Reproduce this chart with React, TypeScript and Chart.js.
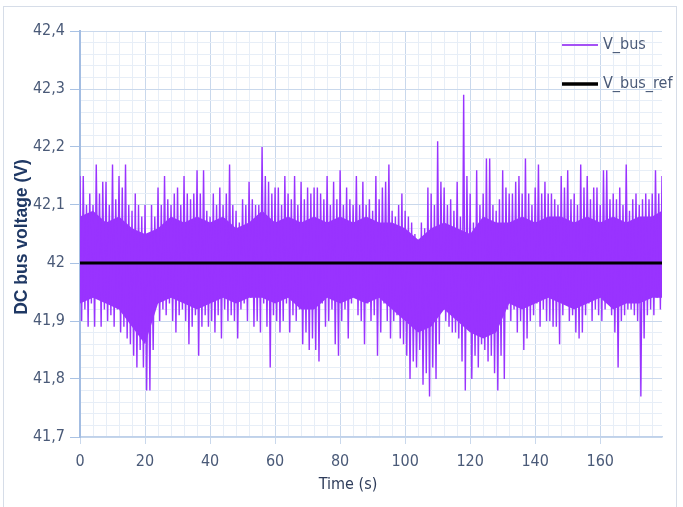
import React, { useEffect, useRef } from 'react';
import { Chart, registerables } from 'chart.js';

Chart.register(...registerables);

// ---- data ----
// Upper spike peak of V_bus for each second, t = 0..179 s
const upperPeaks = [
  42.15, 42.15, 42.1, 42.12, 42.1, 42.17, 42.12, 42.14, 42.14, 42.1,
  42.17, 42.11, 42.15, 42.13, 42.17, 42.1, 42.09, 42.12, 42.1, 42.08,
  42.1, 42.05, 42.1, 42.08, 42.13, 42.1, 42.15, 42.11, 42.1, 42.12,
  42.13, 42.1, 42.15, 42.12, 42.11, 42.12, 42.16, 42.12, 42.16, 42.09,
  42.08, 42.12, 42.1, 42.13, 42.1, 42.12, 42.17, 42.1, 42.09, 42.07,
  42.11, 42.1, 42.14, 42.11, 42.1, 42.1, 42.2, 42.15, 42.14, 42.12,
  42.13, 42.13, 42.1, 42.15, 42.12, 42.11, 42.15, 42.1, 42.14, 42.11,
  42.13, 42.12, 42.13, 42.13, 42.12, 42.11, 42.15, 42.1, 42.14, 42.11,
  42.16, 42.1, 42.13, 42.11, 42.1, 42.15, 42.1, 42.14, 42.1, 42.11,
  42.09, 42.15, 42.11, 42.13, 42.14, 42.17, 42.09, 42.08, 42.1, 42.12,
  42.09, 42.08, 42.07, 42.05, 42.04, 42.07, 42.06, 42.13, 42.12, 42.1,
  42.21, 42.14, 42.13, 42.1, 42.11, 42.09, 42.14, 42.08, 42.29, 42.15,
  42.12, 42.07, 42.16, 42.1, 42.12, 42.18, 42.18, 42.1, 42.09, 42.11,
  42.16, 42.13, 42.12, 42.12, 42.14, 42.15, 42.12, 42.18, 42.12, 42.1,
  42.13, 42.17, 42.12, 42.14, 42.12, 42.12, 42.11, 42.1, 42.15, 42.13,
  42.16, 42.11, 42.12, 42.1, 42.17, 42.13, 42.15, 42.11, 42.13, 42.13,
  42.1, 42.16, 42.16, 42.11, 42.12, 42.11, 42.13, 42.1, 42.17, 42.09,
  42.11, 42.12, 42.1, 42.11, 42.12, 42.11, 42.12, 42.16, 42.12, 42.15,
];

// Lower spike trough of V_bus for each second, t = 0..179 s
const lowerPeaks = [
  41.9, 41.92, 41.89, 41.93, 41.89, 41.95, 41.89, 41.92, 41.9, 41.91,
  41.89, 41.92, 41.88, 41.89, 41.87, 41.86, 41.84, 41.82, 41.85, 41.82,
  41.78, 41.78, 41.85, 41.93, 41.9, 41.92, 41.91, 41.93, 41.9, 41.88,
  41.91, 41.92, 41.9, 41.86, 41.89, 41.91, 41.84, 41.89, 41.91, 41.89,
  41.9, 41.88, 41.91, 41.87, 41.92, 41.9, 41.91, 41.9, 41.87, 41.92,
  41.93, 41.9, 41.94, 41.89, 41.9, 41.88, 41.93, 41.89, 41.82, 41.91,
  41.9, 41.88, 41.9, 41.93, 41.88, 41.91, 41.9, 41.92, 41.86, 41.88,
  41.85, 41.87, 41.85, 41.83, 41.93, 41.89, 41.9, 41.92, 41.86, 41.84,
  41.9, 41.92, 41.87, 41.93, 41.94, 41.91, 41.9, 41.86, 41.93, 41.9,
  41.91, 41.84, 41.88, 41.93, 41.9, 41.87, 41.9, 41.91, 41.87, 41.86,
  41.84, 41.8, 41.83, 41.82, 41.85, 41.79, 41.81, 41.77, 41.82, 41.8,
  41.86, 41.93, 41.9, 41.89, 41.88, 41.88, 41.87, 41.83, 41.78, 41.89,
  41.8, 41.84, 41.82, 41.86, 41.85, 41.83, 41.84, 41.81, 41.78, 41.84,
  41.8, 41.92, 41.9, 41.92, 41.88, 41.9, 41.85, 41.87, 41.9, 41.91,
  41.93, 41.89, 41.92, 41.9, 41.9, 41.89, 41.89, 41.86, 41.91, 41.93,
  41.9, 41.91, 41.88, 41.87, 41.88, 41.91, 41.93, 41.9, 41.92, 41.91,
  41.9, 41.92, 41.93, 41.91, 41.88, 41.82, 41.9, 41.91, 41.92, 41.92,
  41.91, 41.9, 41.77, 41.87, 41.91, 41.92, 41.91, 41.94, 41.92, 41.93,
];

// Edges of the dense (solid) band of V_bus
const coreTimes = [
  0, 4, 8, 12, 16, 20, 24, 28, 32, 36, 40, 44, 48, 52, 56, 60, 64, 68, 72, 76,
  80, 84, 88, 92, 96, 100, 104, 108, 112, 116, 120, 124, 128, 132, 136, 140,
  144, 148, 152, 156, 160, 164, 168, 172, 176, 179,
];
const coreTop = [
  42.08, 42.09, 42.07, 42.08, 42.06, 42.05, 42.06, 42.08, 42.07, 42.08,
  42.07, 42.08, 42.06, 42.07, 42.09, 42.07, 42.08, 42.07, 42.08, 42.07,
  42.08, 42.07, 42.08, 42.07, 42.07, 42.06, 42.04, 42.06, 42.07, 42.06,
  42.05, 42.08, 42.07, 42.07, 42.08, 42.07, 42.08, 42.08, 42.07, 42.08,
  42.07, 42.08, 42.07, 42.08, 42.08, 42.09,
];
const coreBottom = [
  41.93, 41.94, 41.93, 41.92, 41.89, 41.86, 41.93, 41.94, 41.93, 41.92,
  41.93, 41.94, 41.93, 41.94, 41.94, 41.93, 41.94, 41.92, 41.92, 41.94,
  41.93, 41.94, 41.93, 41.94, 41.92, 41.9, 41.88, 41.89, 41.92, 41.9,
  41.88, 41.87, 41.88, 41.93, 41.92, 41.93, 41.94, 41.93, 41.92, 41.93,
  41.94, 41.92, 41.93, 41.93, 41.94, 41.94,
];

const refTimes = [0, 179];
const refValues = [42, 42];

const xMin = 0;
const xMax = 179;
const yMin = 41.7;
const yMax = 42.4;

// ---- styles ----
const PURPLE = '#9933ff';
const GRID_MAJOR = '#c9d8ec';
const GRID_MINOR = '#e7eef7';
const TICK_COLOR = '#4a5a78';
const NARROW = "'DejaVu Sans Condensed', 'Liberation Sans Narrow', sans-serif";
const FS = 16;

const isMajorY = (v: number) => Math.abs(v * 10 - Math.round(v * 10)) < 1e-6;
const isMajorX = (v: number) => Math.abs(v % 20) < 1e-6;
const fmtY = (v: number) => String(Math.round(v * 10) / 10).replace('.', ',');

const overlayPlugin = {
  id: 'overlay',
  afterDraw(chart: any) {
    const c = chart.ctx as CanvasRenderingContext2D;
    const a = chart.chartArea;
    c.save();
    // legend
    const lx0 = a.right - 100;
    const lx1 = a.right - 64;
    const tx = a.right - 59;
    c.lineCap = 'butt';
    c.strokeStyle = '#a552f5';
    c.lineWidth = 2;
    c.beginPath();
    c.moveTo(lx0, a.top + 14);
    c.lineTo(lx1, a.top + 14);
    c.stroke();
    c.strokeStyle = '#000';
    c.lineWidth = 3.5;
    c.beginPath();
    c.moveTo(lx0, a.top + 53);
    c.lineTo(lx1, a.top + 53);
    c.stroke();
    c.fillStyle = TICK_COLOR;
    c.font = `${FS}px ${NARROW}`;
    c.textAlign = 'left';
    c.textBaseline = 'middle';
    c.fillText('V_bus', tx, a.top + 14);
    c.fillText('V_bus_ref', tx, a.top + 53);
    // x title
    c.fillStyle = '#2e3c5a';
    c.textAlign = 'center';
    c.fillText('Time (s)', 348, 485);
    // y title
    c.translate(22, 237);
    c.rotate(-Math.PI / 2);
    c.fillStyle = '#1f3864';
    c.font = `bold 17.5px 'Liberation Sans', sans-serif`;
    c.fillText('DC bus voltage (V)', 0, 0);
    c.restore();
  },
};

export default function App() {
  const ref = useRef<HTMLCanvasElement | null>(null);

  useEffect(() => {
    if (!ref.current) return;
    const spikes: { x: number; y: number }[] = [];
    upperPeaks.forEach((u, i) => {
      spikes.push({ x: i, y: u });
      spikes.push({ x: i + 0.5, y: lowerPeaks[i] });
    });
    const chart = new Chart(ref.current, {
      type: 'line',
      data: {
        datasets: [
          {
            label: 'V_bus_ref',
            data: refTimes.map((t, i) => ({ x: t, y: refValues[i] })),
            borderColor: '#000',
            borderWidth: 3,
            pointRadius: 0,
            fill: false,
          },
          {
            label: 'V_bus',
            data: spikes,
            borderColor: PURPLE,
            borderWidth: 1.4,
            pointRadius: 0,
            fill: false,
          },
          {
            label: 'V_bus band top',
            data: coreTimes.map((t, i) => ({ x: t, y: coreTop[i] })),
            borderColor: PURPLE,
            borderWidth: 0,
            backgroundColor: PURPLE,
            pointRadius: 0,
            fill: '+1',
          },
          {
            label: 'V_bus band bottom',
            data: coreTimes.map((t, i) => ({ x: t, y: coreBottom[i] })),
            borderColor: PURPLE,
            borderWidth: 0,
            pointRadius: 0,
            fill: false,
          },
        ],
      } as any,
      options: {
        animation: false,
        responsive: false,
        events: [],
        layout: { padding: { left: 8, top: 31, right: 21, bottom: 0 } },
        plugins: { legend: { display: false }, tooltip: { enabled: false } },
        scales: {
          x: {
            type: 'linear',
            min: xMin,
            max: xMax,
            afterFit: (s: any) => {
              s.height = 70;
            },
            ticks: {
              stepSize: 4,
              includeBounds: false,
              autoSkip: false,
              maxRotation: 0,
              padding: 8,
              color: TICK_COLOR,
              font: { family: NARROW, size: FS },
              callback: (v: any) => (isMajorX(Number(v)) ? String(v) : ''),
            },
            grid: {
              color: (ctx: any) => (isMajorX(ctx.tick?.value ?? 0) ? GRID_MAJOR : GRID_MINOR),
              tickColor: (ctx: any) => (isMajorX(ctx.tick?.value ?? 0) ? GRID_MAJOR : 'rgba(0,0,0,0)'),
              tickLength: 7,
            },
            border: { color: '#bfd1ea', width: 1.5 },
          },
          y: {
            type: 'linear',
            min: yMin,
            max: yMax,
            afterFit: (s: any) => {
              s.width = 72;
            },
            ticks: {
              stepSize: 0.02,
              autoSkip: false,
              padding: 5,
              color: TICK_COLOR,
              font: { family: NARROW, size: FS },
              callback: (v: any) => (isMajorY(Number(v)) ? fmtY(Number(v)) : ''),
            },
            grid: {
              color: (ctx: any) => (isMajorY(ctx.tick?.value ?? 0) ? GRID_MAJOR : GRID_MINOR),
              tickColor: (ctx: any) => (isMajorY(ctx.tick?.value ?? 0) ? '#a9c2e4' : 'rgba(0,0,0,0)'),
              tickLength: 10,
            },
            border: { color: '#a3bde2', width: 2 },
          },
        },
      } as any,
      plugins: [overlayPlugin],
    });
    return () => chart.destroy();
  }, []);

  return (
    <div style={{ position: 'fixed', left: 0, top: 0, width: 683, height: 507, background: '#fff' }}>
      <div
        style={{
          position: 'absolute',
          left: 3,
          top: 6,
          width: 674,
          height: 506,
          border: '1px solid #d6dde8',
          boxSizing: 'border-box',
        }}
      />
      <canvas ref={ref} width={683} height={507} style={{ position: 'absolute', left: 0, top: 0 }} />
    </div>
  );
}
